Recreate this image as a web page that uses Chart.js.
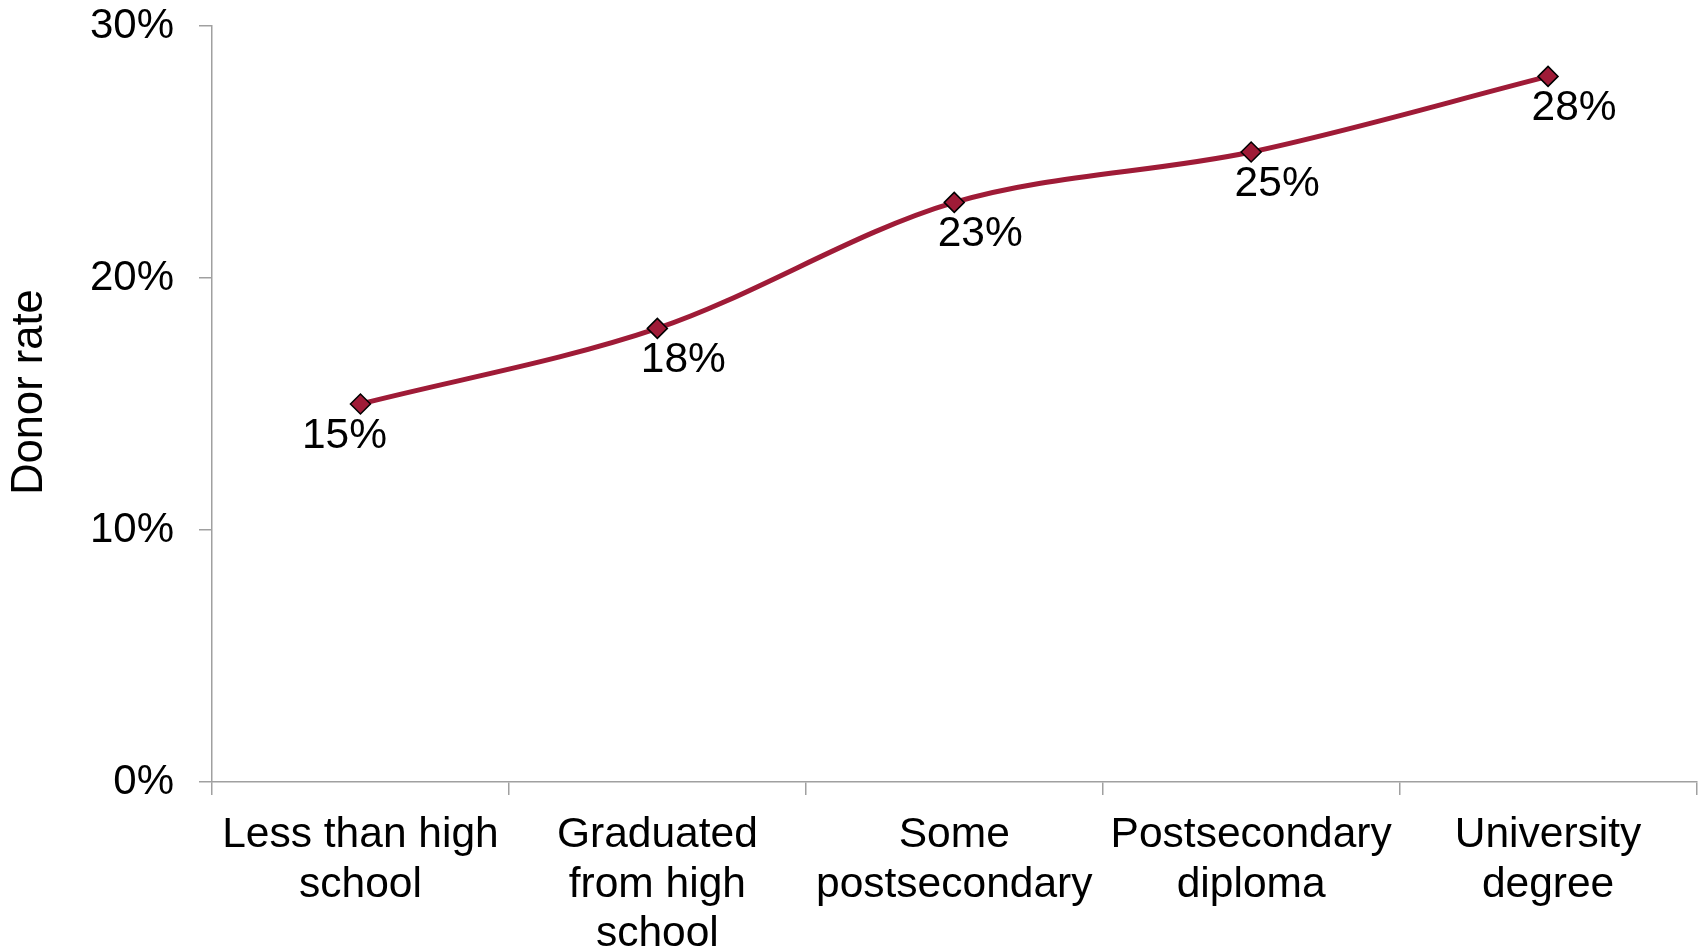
<!DOCTYPE html>
<html>
<head>
<meta charset="utf-8">
<script src="https://cdn.jsdelivr.net/npm/chart.js@4/dist/chart.umd.min.js"></script>
<style>
  html, body { margin: 0; padding: 0; background: #ffffff; }
  #wrap { width: 1708px; height: 950px; }
</style>
</head>
<body>
<div id="wrap"><canvas id="c" width="1708" height="950"></canvas></div>
<script>
// ---- data ----
const categories = [
  ["Less than high", "school"],
  ["Graduated", "from high", "school"],
  ["Some", "postsecondary"],
  ["Postsecondary", "diploma"],
  ["University", "degree"]
];
const donorRate = [15, 18, 23, 25, 28];
const yTicks = [0, 10, 20, 30];
const yTitle = "Donor rate";

const FONT = "'Liberation Sans', Arial, Helvetica, sans-serif";
const LINE = '#9F1B37';
const AXIS = '#A0A0A0';

const labelPlugin = {
  id: 'pointLabels',
  afterDatasetsDraw(chart) {
    const ctx = chart.ctx;
    const meta = chart.getDatasetMeta(0);
    ctx.save();
    ctx.font = '42.5px ' + FONT;
    ctx.fillStyle = '#000';
    ctx.textAlign = 'center';
    ctx.textBaseline = 'middle';
    meta.data.forEach((pt, i) => {
      const dx = i === 0 ? -16 : 26;
      ctx.fillText(donorRate[i] + '%', pt.x + dx, pt.y + 32);
    });
    // y axis title
    const area = chart.chartArea;
    ctx.translate(30, (area.top + area.bottom) / 2 - 12);
    ctx.rotate(-Math.PI / 2);
    ctx.font = '43.5px ' + FONT;
    ctx.fillText(yTitle, 0, 0);
    ctx.restore();
  }
};

new Chart(document.getElementById('c'), {
  type: 'line',
  data: {
    labels: categories,
    datasets: [{
      data: donorRate,
      borderColor: LINE,
      backgroundColor: LINE,
      borderWidth: 5,
      tension: 0.33,
      pointStyle: 'rectRot',
      pointRadius: 10,
      pointBorderColor: '#000',
      pointBorderWidth: 1.5,
      pointBackgroundColor: LINE,
      fill: false
    }]
  },
  options: {
    responsive: false,
    animation: false,
    devicePixelRatio: 1,
    layout: { padding: { left: 0, right: 11, top: 26, bottom: 0 } },
    plugins: { legend: { display: false }, tooltip: { enabled: false } },
    scales: {
      x: {
        type: 'category',
        offset: true,
        grid: { display: true, offset: true, drawOnChartArea: false, drawTicks: true, tickLength: 13, color: AXIS, lineWidth: 1.5 },
        border: { display: true, color: AXIS, width: 1.5 },
        ticks: { color: '#000', font: { family: FONT, size: 42.5, lineHeight: 1.16 }, padding: 16, maxRotation: 0, autoSkip: false },
        afterFit(scale) { scale.height = 168; scale.paddingLeft = 0; scale.paddingRight = 0; }
      },
      y: {
        min: 0, max: 30,
        afterBuildTicks(scale) { scale.ticks = yTicks.map(v => ({ value: v })); },
        grid: { display: true, drawOnChartArea: false, drawTicks: true, tickLength: 13, color: AXIS, lineWidth: 1.5 },
        border: { display: true, color: AXIS, width: 1.5 },
        ticks: { color: '#000', font: { family: FONT, size: 42 }, padding: 25, callback: v => v + '%' },
        afterFit(scale) { scale.width = 212; scale.paddingTop = 0; scale.paddingBottom = 0; }
      }
    }
  },
  plugins: [labelPlugin]
});
</script>
</body>
</html>
